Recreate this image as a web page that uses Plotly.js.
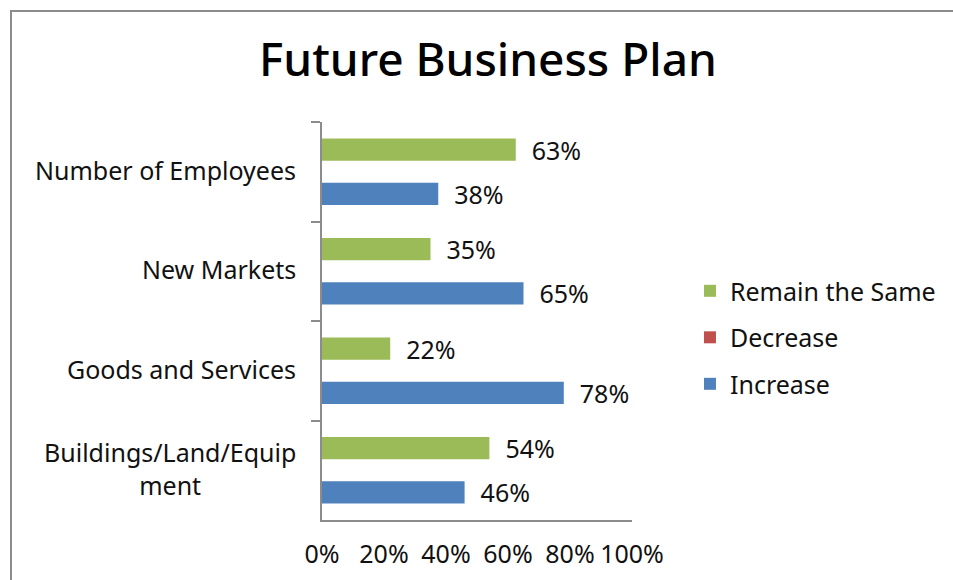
<!DOCTYPE html>
<html>
<head>
<meta charset="utf-8">
<script src="https://cdn.plot.ly/plotly-3.0.1.min.js"></script>
<style>
  html, body { margin: 0; padding: 0; background: #ffffff; overflow: hidden; }
  #wrap { position: relative; width: 953px; height: 580px; }
  #chart { position: absolute; left: 0; top: 0; width: 953px; height: 580px; }
  #frame { position: absolute; left: 10px; top: 10px; width: 1000px; height: 1000px;
           border-left: 2px solid #8c8c8c; border-top: 2px solid #8c8c8c; pointer-events: none; }
</style>
</head>
<body>
<div id="wrap">
  <div id="chart"></div>
  <div id="frame"></div>
</div>
<script>
const categories = ["Number of Employees", "New Markets", "Goods and Services", "Buildings/Land/Equipment"];
const categoryLabels = ["Number of Employees", "New Markets", "Goods and Services", "Buildings/Land/Equip<br>ment"];
const remainSame = [62.5, 35, 22, 54];
const decrease = [null, null, null, null];
const increase = [37.5, 65, 78, 46];
const xTickVals = [0, 20, 40, 60, 80, 100];
const xTickText = ["0%", "20%", "40%", "60%", "80%", "100%"];

const FONT = "Noto Sans, Open Sans, sans-serif";
const labelFont = { family: FONT, size: 25, color: "#111111" };

function barTrace(name, values, color, group) {
  return {
    type: "bar",
    orientation: "h",
    name: name,
    y: categories,
    x: values,
    marker: { color: color },
    texttemplate: "\u00a0\u00a0%{x:.0f}%",
    textposition: "outside",
    constraintext: "none",
    cliponaxis: false,
    textfont: labelFont,
    legendgroup: group,
    hoverinfo: "skip"
  };
}

const data = [
  barTrace("Remain the Same", remainSame, "#9BBB59", "g1"),
  barTrace("Decrease", decrease, "#C0504D", "g2"),
  barTrace("Increase", increase, "#4F81BD", "g3")
];

const annotations = categories.map((c, i) => ({
  xref: "paper", yref: "y",
  x: 0, y: c,
  xanchor: "right", yanchor: "middle",
  xshift: -24,
  yshift: 2,
  align: "center",
  showarrow: false,
  text: categoryLabels[i],
  font: labelFont
}));

const layout = {
  width: 953, height: 580,
  margin: { l: 322, r: 321, t: 122, b: 60, pad: 0 },
  paper_bgcolor: "#ffffff",
  plot_bgcolor: "#ffffff",
  showlegend: true,
  title: {
    text: "Future Business Plan",
    font: { family: FONT, size: 46, color: "#000000", weight: 500 },
    x: 0.512, xanchor: "center",
    y: 0.897, yanchor: "middle",
    xref: "container", yref: "container"
  },
  barmode: "group",
  bargap: 0.33,
  bargroupgap: 0,
  xaxis: {
    range: [0, 100],
    tickvals: xTickVals,
    ticktext: xTickText,
    showgrid: false,
    zeroline: false,
    showline: true,
    linecolor: "#8c8c8c",
    linewidth: 2,
    ticks: "",
    tickfont: labelFont,
    ticklabelstandoff: 11,
    fixedrange: true
  },
  yaxis: {
    type: "category",
    autorange: "reversed",
    showgrid: false,
    zeroline: false,
    showline: true,
    linecolor: "#8c8c8c",
    linewidth: 2,
    ticks: "outside",
    tickson: "boundaries",
    ticklen: 9,
    tickwidth: 2,
    tickcolor: "#8c8c8c",
    showticklabels: false,
    fixedrange: true
  },
  legend: {
    xref: "container", yref: "container",
    x: 0.724, xanchor: "left",
    y: 0.418, yanchor: "middle",
    font: labelFont,
    traceorder: "grouped",
    tracegroupgap: 11,
    bgcolor: "rgba(0,0,0,0)"
  },
  annotations: annotations
};

Plotly.newPlot("chart", data, layout, { displayModeBar: false, staticPlot: true });
</script>
</body>
</html>
